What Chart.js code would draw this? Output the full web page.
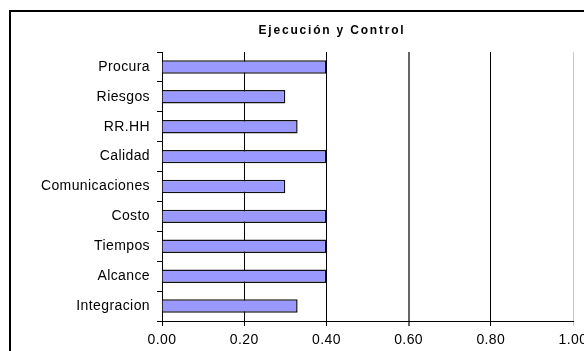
<!DOCTYPE html>
<html>
<head>
<meta charset="utf-8">
<script src="https://cdn.jsdelivr.net/npm/chart.js@4/dist/chart.umd.min.js"></script>
<style>
  html, body { margin: 0; padding: 0; background: #fff; }
  #wrap { width: 584px; height: 351px; position: relative; overflow: hidden; }
  #c { position: absolute; left: 0; top: 0; }
</style>
</head>
<body>
<div id="wrap"><canvas id="c" width="620" height="351"></canvas></div>
<script>
// Knowledge areas evaluated in the execution & control phase
const categories = ['Procura', 'Riesgos', 'RR.HH', 'Calidad', 'Comunicaciones', 'Costo', 'Tiempos', 'Alcance', 'Integracion'];
const scores = [0.40, 0.30, 0.33, 0.40, 0.30, 0.40, 0.40, 0.40, 0.33];
const xTicks = [0, 0.2, 0.4, 0.6, 0.8, 1.0];
const chartTitle = 'Ejecución y Control';

const FONT = 'Arial, "Liberation Sans", sans-serif';

// White background, outer frame, slightly spaced lettering for axis text
const framePlugin = {
  id: 'frame',
  beforeUpdate(chart) { chart.ctx.letterSpacing = '0.4px'; },
  beforeDraw(chart) {
    const ctx = chart.ctx;
    ctx.letterSpacing = '0.4px';
    ctx.save();
    ctx.fillStyle = '#fff';
    ctx.fillRect(0, 0, chart.width, chart.height);
    ctx.strokeStyle = '#000';
    ctx.lineWidth = 2;
    ctx.strokeRect(10, 11, chart.width + 10, chart.height + 10);
    ctx.restore();
  },
  afterDraw(chart) {
    // chart heading, with wide letter spacing
    const ctx = chart.ctx;
    ctx.save();
    ctx.letterSpacing = '1.8px';
    ctx.font = 'bold 12px ' + FONT;
    ctx.fillStyle = '#000';
    ctx.textAlign = 'center';
    ctx.textBaseline = 'middle';
    ctx.fillText(chartTitle, 332, 31);
    ctx.restore();
  }
};

new Chart(document.getElementById('c'), {
  type: 'bar',
  data: {
    labels: categories,
    datasets: [{
      data: scores,
      backgroundColor: '#9999FF',
      borderColor: '#111',
      borderWidth: 1.5,
      categoryPercentage: 1,
      barPercentage: 0.45
    }]
  },
  options: {
    indexAxis: 'y',
    responsive: false,
    animation: false,
    devicePixelRatio: 1,
    layout: { padding: { left: 0, right: 47, top: 52, bottom: 0 } },
    plugins: {
      legend: { display: false },
      tooltip: { enabled: false },
      title: { display: false }
    },
    scales: {
      y: {
        offset: true,
        afterFit(scale) { scale.width = 162; },
        grid: {
          offset: true,
          drawOnChartArea: false,
          drawTicks: true,
          tickLength: 5,
          color: '#000'
        },
        border: { color: '#000', width: 1 },
        ticks: {
          color: '#000',
          padding: 7,
          font: { family: FONT, size: 14 }
        }
      },
      x: {
        min: 0,
        max: 1,
        afterFit(scale) { scale.height = 30; },
        afterBuildTicks(scale) { scale.ticks = xTicks.map(v => ({ value: v })); },
        grid: {
          color: ctx => {
            if (!ctx.tick) return '#000';
            if (ctx.tick.value === 1) return '#c8c8c8';
            if (Math.abs(ctx.tick.value - 0.6) < 1e-9) return '#666';
            return '#000';
          },
          lineWidth: ctx => (ctx.tick && Math.abs(ctx.tick.value - 0.6) < 1e-9 ? 2 : 1),
          tickLength: 5
        },
        border: { color: '#000', width: 1 },
        ticks: {
          color: '#000',
          padding: 6,
          font: { family: FONT, size: 14 },
          callback: v => Number(v).toFixed(2)
        }
      }
    }
  },
  plugins: [framePlugin]
});
</script>
</body>
</html>
